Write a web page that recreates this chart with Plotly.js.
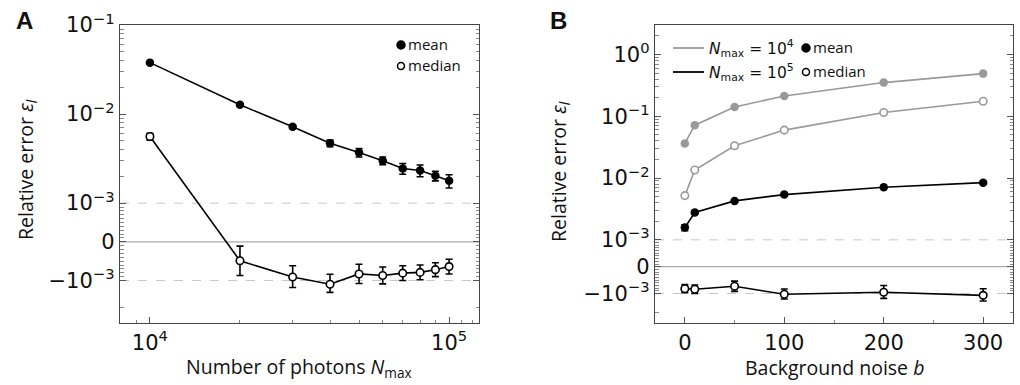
<!DOCTYPE html>
<html>
<head>
<meta charset="utf-8">
<script src="https://cdn.plot.ly/plotly-3.0.1.min.js"></script>
<style>html,body{margin:0;padding:0;background:#fff;}#chart{width:1020px;height:385px;}</style>
</head>
<body>
<div id="chart"></div>
<script>
// ---------- Data ----------
// Panel A: relative error vs number of photons
const photons = [10000, 20000, 30000, 40000, 50000, 60000, 70000, 80000, 90000, 100000];
const meanA = [0.0378, 0.0127, 0.0072, 0.0047, 0.0037, 0.0030, 0.00245, 0.00233, 0.00203, 0.00178];
const meanAErr = [0.0008, 0.0004, 0.0003, 0.0004, 0.0004, 0.0003, 0.00034, 0.00035, 0.00025, 0.0003];
const medianA = [0.0056, -0.00049, -0.00091, -0.0011, -0.00083, -0.00087, -0.00081, -0.00079, -0.00072, -0.00064];
const medianAErr = [0.0005, 0.00038, 0.00029, 0.00026, 0.00025, 0.00022, 0.00019, 0.00019, 0.00018, 0.00019];

// Panel B: relative error vs background noise
const noise = [0, 10, 50, 100, 200, 300];
const meanB1e4 = [0.0364, 0.0718, 0.1416, 0.213, 0.351, 0.490];
const medianB1e4 = [0.0052, 0.0135, 0.0333, 0.0597, 0.115, 0.175];
const medianB1e4Err = [0.0004, 0.0003, 0.0005, 0.0008, 0.0012, 0.0015];
const meanB1e5 = [0.00158, 0.00277, 0.00427, 0.0054, 0.0071, 0.00843];
const meanB1e5Err = [0.00018, 0.00018, 0.00015, 0.00015, 0.00015, 0.00015];
const medianB1e5 = [-0.00082, -0.00084, -0.00073, -0.00103, -0.00095, -0.00107];
const medianB1e5Err = [0.00015, 0.00016, 0.00019, 0.0002, 0.00025, 0.00025];

// Tick labels
const yTickValues = [-1e-3, 0, 1e-3, 1e-2, 1e-1, 1e0];
const yTickLabels = ["\u221210<sup>\u22123</sup>", "0", "10<sup>\u22123</sup>", "10<sup>\u22122</sup>", "10<sup>\u22121</sup>", "10<sup>0</sup>"];
const xTickValsA = [1e4, 1e5];
const xTickTextA = ["10<sup>4</sup>", "10<sup>5</sup>"];
const xTickValsB = [0, 100, 200, 300];

// ---------- symmetric-log transform ----------
const C = 1e-3, L = 1 / Math.LN10;
function sl(v) {
  const a = Math.abs(v), s = v < 0 ? -1 : 1;
  return a <= C ? s * (a / C) * L : s * (L + Math.log10(a / C));
}
const T = arr => arr.map(sl);
const errUp = (v, e) => v.map((y, i) => sl(y + e[i]) - sl(y));
const errDn = (v, e) => v.map((y, i) => sl(y) - sl(y - e[i]));

function minorVals(top) {
  const out = [];
  for (let k = 1; k <= 9; k++) { out.push(sl(k * 1e-4)); out.push(sl(-k * 1e-4)); }
  out.push(sl(-2e-3));
  for (let n = -3; n <= 0; n++) for (let k = 2; k <= 9; k++) {
    const v = k * Math.pow(10, n);
    if (v < top) out.push(sl(v));
  }
  return out;
}

const F = "Open Sans, DejaVu Sans, sans-serif";
const FT = "DejaVu Sans, sans-serif";
const black = "#000", gray = "#999999";
const W = 1020, H = 385;
const px = x => x / W, py = y => 1 - y / H;

function errObj(v, e, color) {
  return {type: 'data', symmetric: false, array: errUp(v, e), arrayminus: errDn(v, e),
          color: color, thickness: 1.6, width: 3.5};
}

const traces = [
  {x: photons, y: T(meanA), xaxis: 'x', yaxis: 'y', mode: 'lines+markers',
   line: {color: black, width: 1.6}, marker: {color: black, size: 8.5},
   error_y: errObj(meanA, meanAErr, black), showlegend: false},
  {x: photons, y: T(medianA), xaxis: 'x', yaxis: 'y', mode: 'lines+markers',
   line: {color: black, width: 1.6}, marker: {color: '#fff', size: 7.5, line: {color: black, width: 1.6}},
   error_y: errObj(medianA, medianAErr, black), showlegend: false},
  {x: noise, y: T(meanB1e4), xaxis: 'x2', yaxis: 'y2', mode: 'lines+markers',
   line: {color: gray, width: 1.6}, marker: {color: gray, size: 8.5}, showlegend: false},
  {x: noise, y: T(medianB1e4), xaxis: 'x2', yaxis: 'y2', mode: 'lines+markers',
   line: {color: gray, width: 1.6}, marker: {color: '#fff', size: 7.5, line: {color: gray, width: 1.6}},
   error_y: errObj(medianB1e4, medianB1e4Err, gray), showlegend: false},
  {x: noise, y: T(meanB1e5), xaxis: 'x2', yaxis: 'y2', mode: 'lines+markers',
   line: {color: black, width: 1.6}, marker: {color: black, size: 8.5},
   error_y: errObj(meanB1e5, meanB1e5Err, black), showlegend: false},
  {x: noise, y: T(medianB1e5), xaxis: 'x2', yaxis: 'y2', mode: 'lines+markers',
   line: {color: black, width: 1.6}, marker: {color: '#fff', size: 7.5, line: {color: black, width: 1.6}},
   error_y: errObj(medianB1e5, medianB1e5Err, black), showlegend: false}
];

const axisCommon = {
  showline: true, linecolor: '#444', linewidth: 1.3, mirror: 'ticks',
  ticks: 'inside', ticklen: 6, tickwidth: 1, tickcolor: '#555',
  showgrid: false, zeroline: false, automargin: false,
  tickfont: {family: FT, size: 21, color: '#111'}
};

function yAxis(top, dom, anchor) {
  return Object.assign({}, axisCommon, {
    domain: dom, anchor: anchor, range: [sl(-3e-3), sl(top)],
    tickmode: 'array',
    tickvals: yTickValues.filter(v => v <= top).map(sl),
    ticktext: yTickLabels.filter((t, i) => yTickValues[i] <= top),
    minor: {tickmode: 'array', tickvals: minorVals(top), ticks: 'inside', ticklen: 3.5, tickcolor: '#888', tickwidth: 1, showgrid: false}
  });
}

const yDom = [py(323), py(25)];
const layout = {
  width: W, height: H, margin: {l: 0, r: 0, t: 0, b: 0},
  paper_bgcolor: '#fff', plot_bgcolor: '#fff', showlegend: false,
  xaxis: Object.assign({}, axisCommon, {
    domain: [px(120), px(479)], anchor: 'y', type: 'log', range: [3.9, 5.1], mirror: true,
    tickmode: 'array', tickvals: xTickValsA, ticktext: xTickTextA,
    minor: {tickmode: 'array', tickvals: [8000, 9000, 20000, 30000, 40000, 50000, 60000, 70000, 80000, 90000, 110000, 120000],
            ticks: 'inside', ticklen: 3.5, tickcolor: '#888', tickwidth: 1, showgrid: false}
  }),
  yaxis: yAxis(0.1, yDom, 'x'),
  xaxis2: Object.assign({}, axisCommon, {
    domain: [px(655), px(1013)], anchor: 'y2', range: [-30, 330], mirror: true,
    tickmode: 'array', tickvals: xTickValsB,
    minor: {tickmode: 'array', tickvals: [50, 150, 250], ticks: 'inside', ticklen: 3.5, tickcolor: '#888', tickwidth: 1, showgrid: false}
  }),
  yaxis2: yAxis(3, yDom, 'x2'),
  shapes: [],
  annotations: []
};

// reference lines at 0 and +/-1e-3
[['x', 'y'], ['x2', 'y2']].forEach(([xa, ya]) => {
  [-1e-3, 1e-3].forEach(v => layout.shapes.push({type: 'line', xref: xa + ' domain', yref: ya, x0: 0, x1: 1, y0: sl(v), y1: sl(v),
    line: {color: '#c8c8c8', width: 1, dash: 'dash'}, layer: 'below'}));
  layout.shapes.push({type: 'line', xref: xa + ' domain', yref: ya, x0: 0, x1: 1, y0: 0, y1: 0,
    line: {color: '#aaaaaa', width: 1.2}, layer: 'below'});
});

// legend helpers
function dot(cx, cy, r, fill, stroke) {
  layout.shapes.push({type: 'circle', xref: 'paper', yref: 'paper',
    x0: px(cx - r), x1: px(cx + r), y0: py(cy + r), y1: py(cy - r),
    fillcolor: fill, line: {color: stroke, width: 1.5}});
}
function txt(x, y, text, size, anchor, extra, fam) {
  layout.annotations.push(Object.assign({xref: 'paper', yref: 'paper', x: px(x), y: py(y), text: text,
    showarrow: false, xanchor: anchor || 'left', yanchor: 'middle', font: {family: fam || F, size: size, color: '#111'}}, extra || {}));
}
// legend A
dot(401, 45, 4, black, black);
txt(406, 44, 'mean', 15);
dot(401, 66, 3.5, '#fff', black);
txt(406, 65, 'median', 15);

// legend B
layout.shapes.push({type: 'line', xref: 'paper', yref: 'paper', x0: px(673), x1: px(704), y0: py(48), y1: py(48), line: {color: gray, width: 1.8}});
layout.shapes.push({type: 'line', xref: 'paper', yref: 'paper', x0: px(673), x1: px(704), y0: py(72), y1: py(72), line: {color: black, width: 1.8}});
txt(707, 48, '<i>N</i><sub>max</sub> = 10<sup>4</sup>', 15.5, 'left', null, FT);
txt(707, 72, '<i>N</i><sub>max</sub> = 10<sup>5</sup>', 15.5, 'left', null, FT);
dot(806, 48, 4, black, black);
txt(811, 47, 'mean', 15);
dot(806, 72, 3.5, '#fff', black);
txt(811, 71, 'median', 15);

// panel labels
txt(24, 20, '<b>A</b>', 24, 'center', null, 'Liberation Sans, Arial, sans-serif');
txt(558, 20, '<b>B</b>', 24, 'center', null, 'Liberation Sans, Arial, sans-serif');

// axis titles
txt(27, 170, 'Relative error <i>\u03b5<sub>l</sub></i>', 19.5, 'center', {textangle: -90});
txt(560, 172, 'Relative error <i>\u03b5<sub>l</sub></i>', 19.5, 'center', {textangle: -90});
txt(299, 367, 'Number of photons <i>N</i><sub>max</sub>', 19.5, 'center');
txt(834, 367, 'Background noise <i>b</i>', 19.5, 'center');

Plotly.newPlot('chart', traces, layout, {staticPlot: true, displayModeBar: false});
</script>
</body>
</html>
